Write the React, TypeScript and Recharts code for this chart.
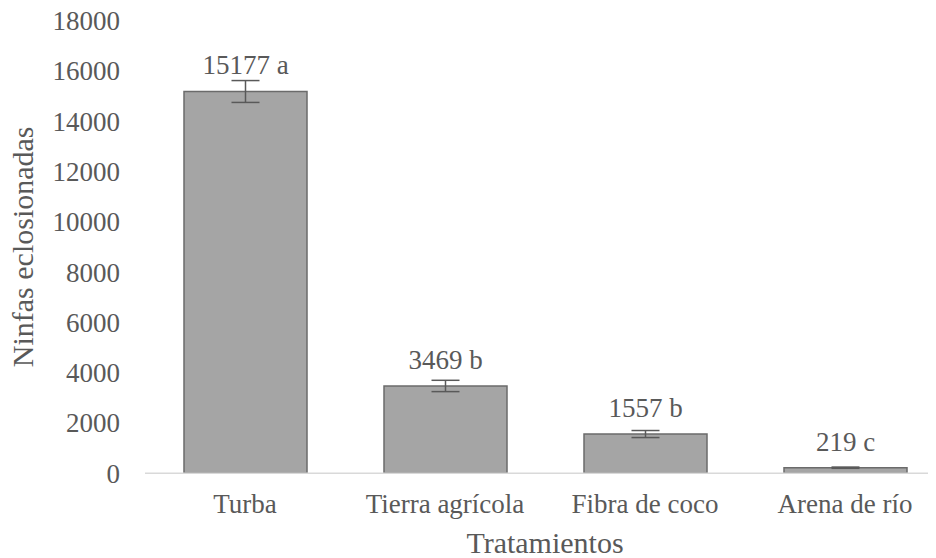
import React from 'react';
import { BarChart, Bar, XAxis, YAxis, ErrorBar, LabelList, Label } from 'recharts';

const categories = ['Turba', 'Tierra agrícola', 'Fibra de coco', 'Arena de río'];
const values = [15177, 3469, 1557, 219];
const errors = [435, 225, 140, 25];
const letters = ['a', 'b', 'b', 'c'];
const yTicks = [0, 2000, 4000, 6000, 8000, 10000, 12000, 14000, 16000, 18000];
const yTitle = 'Ninfas eclosionadas';
const xTitle = 'Tratamientos';

const data = categories.map((name, i) => ({
  name,
  value: values[i],
  err: errors[i],
  label: `${values[i]} ${letters[i]}`,
}));

const FONT = '"Liberation Serif", serif';
const TEXT = '#595959';

const YTitle = (props: any) => {
  const vb = props.viewBox || {};
  const cx = (vb.x || 0) + 33;
  const cy = (vb.y || 0) + (vb.height || 0) / 2;
  return (
    <text
      x={cx}
      y={cy}
      transform={`rotate(-90, ${cx}, ${cy})`}
      textAnchor="middle"
      fontFamily={FONT}
      fontSize={30}
      fill={TEXT}
    >
      {yTitle}
    </text>
  );
};

const XTitle = (props: any) => {
  const vb = props.viewBox || {};
  const cx = (vb.x || 0) + (vb.width || 0) / 2;
  const y = (vb.y || 0) + 80;
  return (
    <text x={cx} y={y} textAnchor="middle" fontFamily={FONT} fontSize={30} fill={TEXT}>
      {xTitle}
    </text>
  );
};

export default function App() {
  return (
    <div
      style={{
        marginLeft: -8,
        position: 'relative',
        top: -8,
        width: 936,
        height: 558,
        overflow: 'hidden',
      }}
    >
      <BarChart
        width={958}
        height={558}
        data={data}
        margin={{ top: 20.5, right: 13, bottom: 4.8, left: 0 }}
      >
        <XAxis
          dataKey="name"
          height={80}
          tickLine={false}
          tickMargin={15}
          axisLine={{ stroke: '#d9d9d9', strokeWidth: 1.5 }}
          tick={{ fontFamily: FONT, fontSize: 27, fill: TEXT }}
          interval={0}
          label={<Label content={XTitle} />}
        />
        <YAxis
          width={145}
          domain={[0, 18000]}
          ticks={yTicks}
          axisLine={false}
          tickLine={false}
          tickMargin={19}
          tick={{ fontFamily: FONT, fontSize: 27, fill: TEXT }}
          label={<Label content={YTitle} />}
        />
        <Bar
          dataKey="value"
          fill="#a5a5a5"
          stroke="#6b6b6b"
          strokeWidth={1.5}
          barSize={123}
          isAnimationActive={false}
        >
          <ErrorBar
            dataKey="err"
            direction="y"
            width={14}
            stroke="#595959"
            strokeWidth={1.5}
            isAnimationActive={false}
          />
          <LabelList
            dataKey="label"
            position="top"
            offset={17}
            fontFamily={FONT}
            fontSize={27}
            fill={TEXT}
          />
        </Bar>
      </BarChart>
    </div>
  );
}
